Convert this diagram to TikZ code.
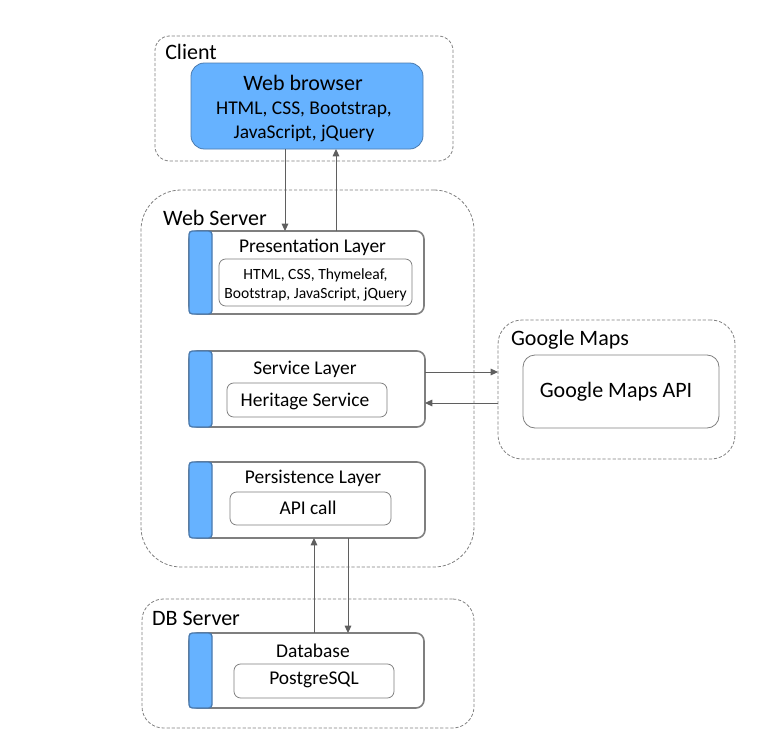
\documentclass[tikz,border=0pt]{standalone}
\usepackage{fontspec}
\setmainfont{Carlito}
\usetikzlibrary{arrows.meta}
\definecolor{bluef}{HTML}{66B2FF}
\definecolor{bluestroke}{HTML}{4A7AAE}
\definecolor{boxgray}{HTML}{7F7F7F}
\definecolor{dashgray}{HTML}{808080}
\definecolor{arrgray}{HTML}{5F5F5F}
\tikzset{
  container/.style={draw=dashgray, line width=0.6pt, dash pattern=on 2.4pt off 1.4pt, inner sep=0pt, outer sep=0pt},
  layerbox/.style={draw=boxgray, line width=1.2pt, rounded corners=6pt, fill=white, inner sep=0pt, outer sep=0pt},
  stripbox/.style={draw=bluestroke, line width=1pt, rounded corners=2.5pt, fill=bluef, inner sep=0pt, outer sep=0pt},
  innerbox/.style={draw=boxgray, line width=0.6pt, rounded corners=5pt, inner sep=0pt, outer sep=0pt},
  browserbox/.style={draw=bluestroke, line width=0.6pt, rounded corners=10pt, fill=bluef, inner sep=0pt, outer sep=0pt},
  biglbl/.style={font=\fontsize{16.5}{19}\selectfont, inner sep=0pt},
  midlbl/.style={font=\fontsize{14.6}{17}\selectfont, inner sep=0pt},
  smalllbl/.style={font=\fontsize{11.7}{13.5}\selectfont, inner sep=0pt},
  arr/.style={draw=arrgray, line width=0.75pt, -{Triangle[length=5.5pt,width=5pt]}},
}
\begin{document}
\begin{tikzpicture}[x=0.75pt,y=-0.75pt]
\path[use as bounding box] (0,0) rectangle (776,753);

% containers
\node[container, rounded corners=11pt, minimum width=298*0.75pt, minimum height=125*0.75pt] (client) at (304,98.5) {};
\node[container, rounded corners=30pt, minimum width=333*0.75pt, minimum height=377*0.75pt] (websrv) at (307.5,378.5) {};
\node[container, rounded corners=18pt, minimum width=237*0.75pt, minimum height=139*0.75pt] (gmaps) at (616.5,389.5) {};
\node[container, rounded corners=16pt, minimum width=332*0.75pt, minimum height=129*0.75pt] (dbsrv) at (308,663.5) {};

\node[biglbl] (clientlbl) at (191,52) {Client};
\node[biglbl] (websrvlbl) at (215,218) {Web Server};
\node[biglbl] (gmapslbl) at (570,340) {Google Maps};
\node[biglbl] (dbsrvlbl) at (196,618) {DB Server};

% web browser
\node[browserbox, minimum width=232*0.75pt, minimum height=86*0.75pt] (browser) at (307,106) {};
\node[biglbl] (browsert) at (303,83) {Web browser};
\node[midlbl] (browserl1) at (304,110) {HTML, CSS, Bootstrap,};
\node[midlbl] (browserl2) at (304,133) {JavaScript, jQuery};

% presentation layer
\node[layerbox, minimum width=235*0.75pt, minimum height=83*0.75pt] (pres) at (306.5,272.5) {};
\node[stripbox, minimum width=23*0.75pt, minimum height=83*0.75pt] (presstrip) at (200.5,272.5) {};
\node[midlbl] (prest) at (312.5,247) {Presentation Layer};
\node[innerbox, minimum width=193*0.75pt, minimum height=47*0.75pt] (presin) at (315.5,282.5) {};
\node[smalllbl] (presl1) at (315.5,275) {HTML, CSS, Thymeleaf,};
\node[smalllbl] (presl2) at (315.5,294) {Bootstrap, JavaScript, jQuery};

% service layer
\node[layerbox, minimum width=236*0.75pt, minimum height=76*0.75pt] (serv) at (307,389) {};
\node[stripbox, minimum width=23*0.75pt, minimum height=76*0.75pt] (servstrip) at (200.5,389) {};
\node[midlbl] (servt) at (305,369) {Service Layer};
\node[innerbox, minimum width=160*0.75pt, minimum height=34*0.75pt] (servin) at (307,400) {};
\node[midlbl] (servl) at (305,401) {Heritage Service};

% persistence layer
\node[layerbox, minimum width=236*0.75pt, minimum height=76*0.75pt] (pers) at (307,500) {};
\node[stripbox, minimum width=23*0.75pt, minimum height=76*0.75pt] (persstrip) at (200.5,500) {};
\node[midlbl] (perst) at (313,478) {Persistence Layer};
\node[innerbox, minimum width=161*0.75pt, minimum height=33*0.75pt] (persin) at (310.5,508.5) {};
\node[midlbl] (persl) at (308,508) {API call};

% google maps api
\node[innerbox, rounded corners=9pt, minimum width=196*0.75pt, minimum height=73*0.75pt] (gapi) at (621,391.5) {};
\node[biglbl] (gapil) at (616,392) {Google Maps API};

% database
\node[layerbox, minimum width=235*0.75pt, minimum height=75*0.75pt] (db) at (306.5,670.5) {};
\node[stripbox, minimum width=23*0.75pt, minimum height=75*0.75pt] (dbstrip) at (200.5,670.5) {};
\node[midlbl] (dbt) at (313,651) {Database};
\node[innerbox, minimum width=160*0.75pt, minimum height=34*0.75pt] (dbin) at (314,681) {};
\node[midlbl] (dbl) at (314,680) {PostgreSQL};

% connector x/y positions
\coordinate (xa) at (285,0);
\coordinate (xb) at (336,0);
\coordinate (xc) at (314,0);
\coordinate (xd) at (348,0);
\coordinate (ya) at (0,372);
\coordinate (yb) at (0,403);

\draw[arr] (browser.south -| xa) -- (pres.north -| xa);
\draw[arr] (pres.north -| xb) -- (browser.south -| xb);
\draw[arr] (serv.east |- ya) -- (gmaps.west |- ya);
\draw[arr] (gmaps.west |- yb) -- (serv.east |- yb);
\draw[arr] (db.north -| xc) -- (pers.south -| xc);
\draw[arr] (pers.south -| xd) -- (db.north -| xd);
\end{tikzpicture}
\end{document}
